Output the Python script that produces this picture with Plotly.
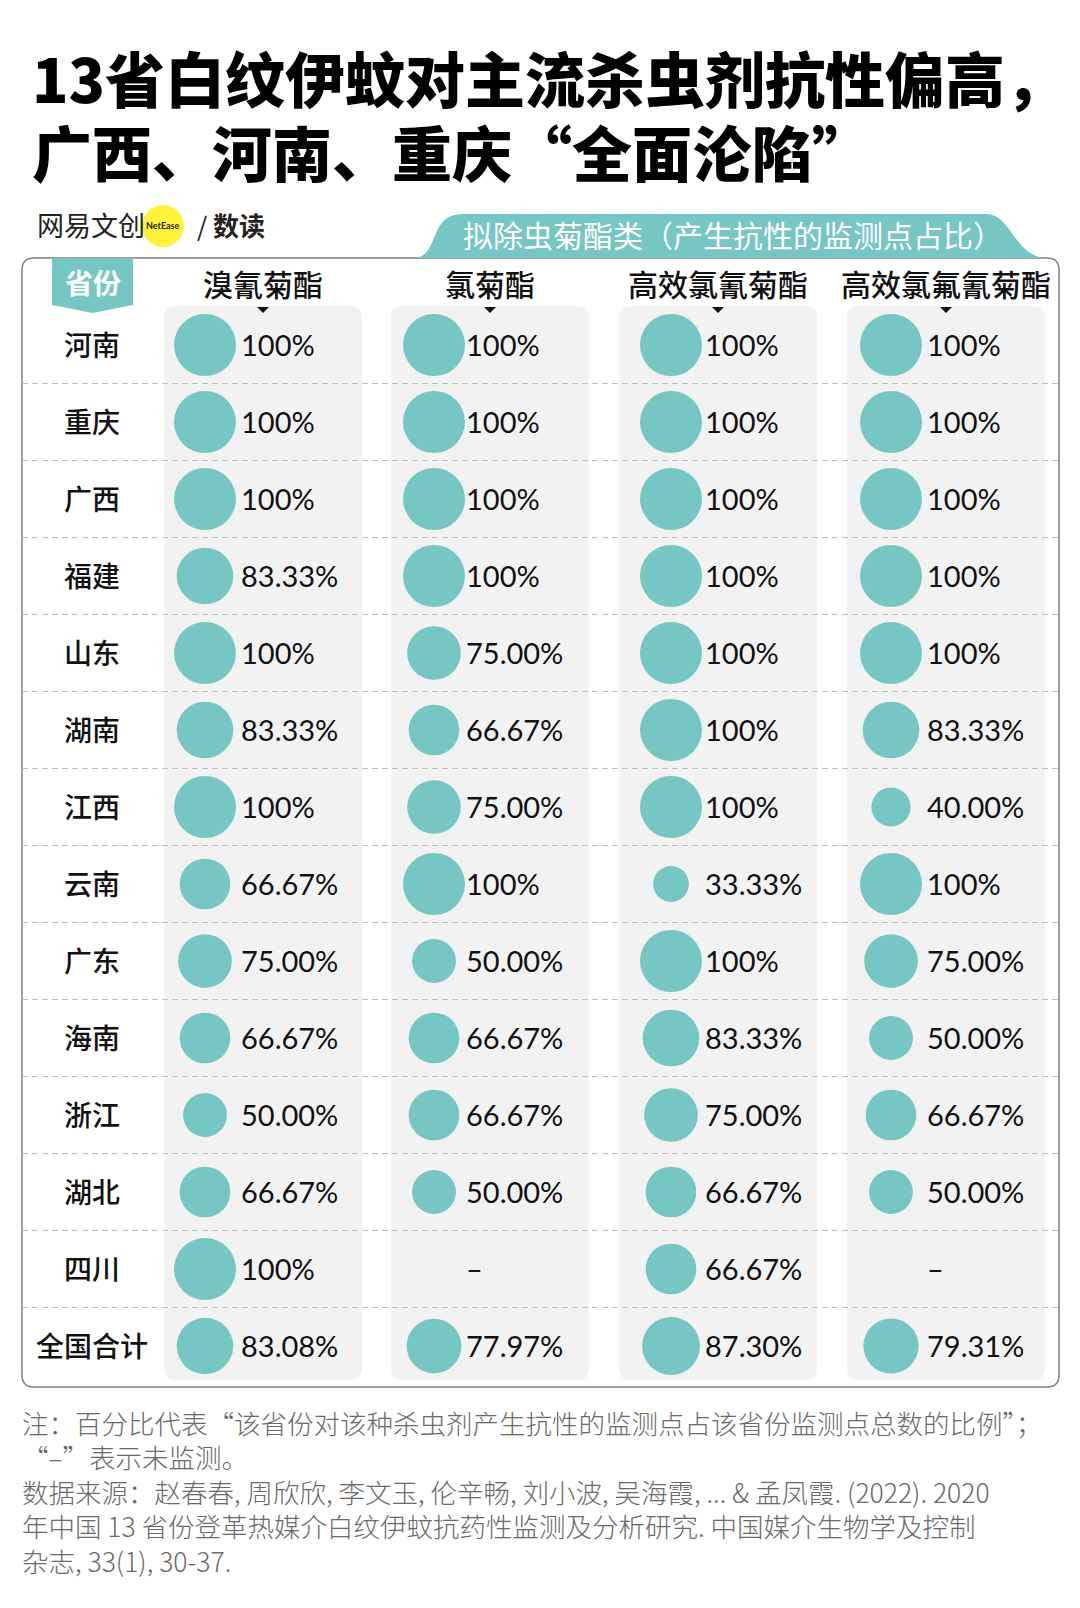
import plotly.graph_objects as go

# the page body has an 8px margin, so the figure is 1072x1600 and all
# positions below are given in page pixels (offset by 8)
OFF = 8
W, H = 1080 - OFF, 1608 - OFF

# data
provinces = ["河南", "重庆", "广西", "福建", "山东", "湖南", "江西",
             "云南", "广东", "海南", "浙江", "湖北", "四川", "全国合计"]
insecticides = ["溴氰菊酯", "氯菊酯", "高效氯氰菊酯", "高效氯氟氰菊酯"]
deltamethrin = [100, 100, 100, 83.33, 100, 83.33, 100, 66.67, 75, 66.67, 50, 66.67, 100, 83.08]
permethrin = [100, 100, 100, 100, 75, 66.67, 75, 100, 50, 66.67, 66.67, 50, None, 77.97]
beta_cypermethrin = [100, 100, 100, 100, 100, 100, 100, 33.33, 100, 83.33, 75, 66.67, 66.67, 87.30]
lambda_cyhalothrin = [100, 100, 100, 100, 100, 83.33, 40, 100, 75, 50, 66.67, 50, None, 79.31]
series = [deltamethrin, permethrin, beta_cypermethrin, lambda_cyhalothrin]

title_lines = ["13省白纹伊蚊对主流杀虫剂抗性偏高，", "广西、河南、重庆“全面沦陷”"]
banner_text = "拟除虫菊酯类（产生抗性的监测点占比）"
notes = [
    "注：百分比代表“该省份对该种杀虫剂产生抗性的监测点占该省份监测点总数的比例”；",
    "“–”表示未监测。",
    "数据来源：赵春春, 周欣欣, 李文玉, 伦辛畅, 刘小波, 吴海霞, ... & 孟凤霞. (2022). 2020",
    "年中国 13 省份登革热媒介白纹伊蚊抗药性监测及分析研究. 中国媒介生物学及控制",
    "杂志, 33(1), 30-37.",
]

TEAL = "#76c6c3"
GREY_PANEL = "#f2f2f2"
CJK = "Noto Sans CJK SC"

# layout (page pixels)
ROW0, ROWH = 345, 77
TEXT_DROP = 4  # row texts sit a little lower than the circles
panel_left = [164, 391, 619, 847]
PANEL_W = 198
circle_x = [205, 434, 671, 891]
text_x = [241, 466, 705, 927]


def py(y):
    return 1 - (y - OFF) / H


def label(v):
    if v is None:
        return "–"
    if v == 100:
        return "100%"
    return f"{v:.2f}%"


def rrect(x0, y0, x1, y1, r):
    return (f"M{x0 + r},{py(y0)} L{x1 - r},{py(y0)} Q{x1},{py(y0)} {x1},{py(y0 + r)} "
            f"L{x1},{py(y1 - r)} Q{x1},{py(y1)} {x1 - r},{py(y1)} L{x0 + r},{py(y1)} "
            f"Q{x0},{py(y1)} {x0},{py(y1 - r)} L{x0},{py(y0 + r)} Q{x0},{py(y0)} {x0 + r},{py(y0)} Z")


fig = go.Figure()

# circles and labels
for i, vals in enumerate(series):
    fig.add_trace(go.Scatter(
        x=[circle_x[i]] * len(provinces), y=provinces, mode="markers",
        marker=dict(size=[v if v is not None else 0 for v in vals], sizemode="area",
                    sizeref=2 * 100 / 62 ** 2, color=TEAL, opacity=1, line=dict(width=0)),
        hoverinfo="skip", showlegend=False))
    fig.add_trace(go.Scatter(
        x=[text_x[i]] * len(provinces), y=provinces, yaxis="y2", mode="text",
        text=[label(v) for v in vals], textposition="middle right",
        textfont=dict(family="Lato", size=29, color="#111111"),
        hoverinfo="skip", showlegend=False))

fig.add_trace(go.Scatter(
    x=[92] * len(provinces), y=provinces, yaxis="y2", mode="text", text=provinces,
    textposition="middle center",
    textfont=dict(family=CJK, size=28, color="#111111", weight=500),
    hoverinfo="skip", showlegend=False))

shapes = []
# frame
shapes.append(dict(type="path", path=rrect(22, 258, 1059, 1387, 12),
                   line=dict(color="#808080", width=1.5), fillcolor="white", layer="below"))
# grey column panels
for x0 in panel_left:
    shapes.append(dict(type="path", path=rrect(x0, 306, x0 + PANEL_W, 1380, 12),
                       line=dict(width=0), fillcolor=GREY_PANEL, layer="below"))
# dashed row separators
for k in range(len(provinces) - 1):
    yy = py(ROW0 + ROWH / 2 + k * ROWH)
    shapes.append(dict(type="line", x0=22, x1=1059, y0=yy, y1=yy,
                       line=dict(color="#bdbdbd", width=1.2, dash="6px,4px"), layer="below"))
# banner tab
shapes.append(dict(type="path",
                   path=(f"M414,{py(258)} C440,{py(257)} 428,{py(214)} 462,{py(214)} "
                         f"L986,{py(214)} C1010,{py(214)} 1012,{py(250)} 1042,{py(258)} Z"),
                   line=dict(width=0), fillcolor=TEAL, layer="below"))
# 省份 tab
shapes.append(dict(type="path",
                   path=(f"M52,{py(258)} L133,{py(258)} L133,{py(305)} L92.5,{py(313)} "
                         f"L52,{py(305)} Z"),
                   line=dict(width=0), fillcolor=TEAL, layer="below"))
# header pointers
for x0 in panel_left:
    cx = x0 + PANEL_W / 2
    shapes.append(dict(type="path",
                       path=f"M{cx - 6},{py(307)} L{cx + 6},{py(307)} L{cx},{py(313)} Z",
                       line=dict(width=0), fillcolor="#111111"))
# logo dot
shapes.append(dict(type="circle", x0=142, x1=184, y0=py(205), y1=py(247),
                   line=dict(width=0), fillcolor="#fff23a", layer="below"))

for s in shapes:
    s.setdefault("xref", "x")
    s.setdefault("yref", "paper")

annotations = []
for j, t in enumerate(title_lines):
    annotations.append(dict(x=30, y=py(77 + j * 74), text=t, xanchor="left", yanchor="middle",
                            font=dict(family=CJK, size=60, color="#000000", weight=900)))
for i, name in enumerate(insecticides):
    annotations.append(dict(x=panel_left[i] + PANEL_W / 2, y=py(283), text=name,
                            xanchor="center", yanchor="middle",
                            font=dict(family=CJK, size=30, color="#111111", weight=500)))
annotations.append(dict(x=92.5, y=py(282), text="省份", xanchor="center", yanchor="middle",
                        font=dict(family=CJK, size=28, color="white", weight=700)))
annotations.append(dict(x=733, y=py(234), text=banner_text, xanchor="center", yanchor="middle",
                        font=dict(family=CJK, size=30, color="white")))
annotations.append(dict(x=35, y=py(224), text="网易文创", xanchor="left", yanchor="middle",
                        font=dict(family=CJK, size=27, color="#222222")))
annotations.append(dict(x=163, y=py(226), text="NetEase", xanchor="center", yanchor="middle",
                        font=dict(family="Lato", size=9, color="#222222", weight=700)))
annotations.append(dict(x=195, y=py(224), text="/ <b>数读</b>", xanchor="left", yanchor="middle",
                        font=dict(family=CJK, size=26, color="#222222")))
annotations.append(dict(x=20, y=py(1401), text="<br>".join(notes), xanchor="left",
                        yanchor="top", align="left",
                        font=dict(family=CJK, size=26.5, color="#6a6a6a", weight=300)))
for a in annotations:
    a.update(xref="x", yref="paper", showarrow=False)

top = (OFF - ROW0) / ROWH
bottom = top + H / ROWH
shift = TEXT_DROP / ROWH
fig.update_layout(
    width=W, height=H, margin=dict(l=0, r=0, t=0, b=0),
    paper_bgcolor="white", plot_bgcolor="rgba(0,0,0,0)",
    xaxis=dict(range=[OFF, OFF + W], visible=False, fixedrange=True),
    yaxis=dict(type="category", categoryarray=provinces, categoryorder="array",
               range=[bottom, top], visible=False, fixedrange=True),
    yaxis2=dict(type="category", categoryarray=provinces, categoryorder="array",
                range=[bottom - shift, top - shift], visible=False, fixedrange=True,
                overlaying="y"),
    shapes=shapes, annotations=annotations,
)

fig.write_html("out.html")
